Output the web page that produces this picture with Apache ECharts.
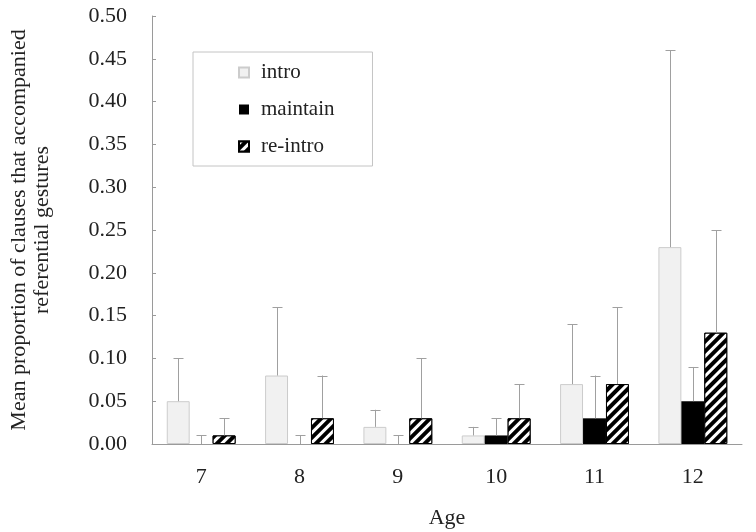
<!DOCTYPE html>
<html>
<head>
<meta charset="utf-8">
<script src="https://cdn.jsdelivr.net/npm/echarts@6/dist/echarts.min.js"></script>
<style>
    html, body { margin: 0; padding: 0; background: #fff; }
    #chart { width: 756px; height: 532px; }
</style>
</head>
<body>
<div id="chart"></div>
<script>
// 数据
var ages = ['7', '8', '9', '10', '11', '12'];
var yTicks = [0, 0.05, 0.1, 0.15, 0.2, 0.25, 0.3, 0.35, 0.4, 0.45, 0.5];
var introMean = [0.05, 0.08, 0.02, 0.01, 0.07, 0.23];
var introUpper = [0.10, 0.16, 0.04, 0.02, 0.14, 0.46];
var maintainMean = [0.00, 0.00, 0.00, 0.01, 0.03, 0.05];
var maintainUpper = [0.01, 0.01, 0.01, 0.03, 0.08, 0.09];
var reintroMean = [0.01, 0.03, 0.03, 0.03, 0.07, 0.13];
var reintroUpper = [0.03, 0.08, 0.10, 0.07, 0.16, 0.25];

var font = 'Liberation Serif';
var groupFrac = 0.7;   // 每组柱子占类目宽度的比例
var barFrac = groupFrac / 3;

// 误差线
function errorSeries(name, means, uppers, slot) {
    var data = [];
    for (var i = 0; i < means.length; i++) {
        data.push([i, means[i], uppers[i]]);
    }
    return {
        name: name + '-err',
        type: 'custom',
        z: 5,
        silent: true,
        data: data,
        encode: { x: 0, y: [1, 2] },
        renderItem: function (params, api) {
            var band = api.size([1, 0])[0];
            var base = api.coord([api.value(0), api.value(1)]);
            var top = api.coord([api.value(0), api.value(2)]);
            var x = Math.round(base[0] + (slot - 1) * barFrac * band) + 0.5;
            var cap = 5;
            var style = { stroke: '#a0a0a0', lineWidth: 1 };
            return {
                type: 'group',
                children: [
                    { type: 'line', shape: { x1: x, y1: base[1], x2: x, y2: top[1] }, style: style },
                    { type: 'line', shape: { x1: x - cap, y1: Math.round(top[1]) + 0.5, x2: x + cap, y2: Math.round(top[1]) + 0.5 }, style: style }
                ]
            };
        }
    };
}

var chart = echarts.init(document.getElementById('chart'));
var option = {
    animation: false,
    backgroundColor: '#fff',
    textStyle: { fontFamily: font },
    grid: { left: 152, right: 14, top: 16, bottom: 88, outerBoundsMode: 'none', containLabel: false },
    legend: {
        data: ['intro', 'maintain', 're-intro'],
        orient: 'vertical',
        left: 193,
        top: 52,
        padding: [10, 38, 9, 45],
        itemGap: 16,
        itemWidth: 10,
        itemHeight: 10,
        icon: 'rect',
        borderColor: '#c4c4c4',
        borderWidth: 1,
        backgroundColor: '#fff',
        textStyle: { fontFamily: font, fontSize: 21, color: '#222', padding: [0, 0, 0, 7] }
    },
    xAxis: {
        type: 'category',
        data: ages,
        name: 'Age',
        nameLocation: 'middle',
        nameGap: 63,
        nameTextStyle: { fontFamily: font, fontSize: 22, color: '#222' },
        axisLine: { lineStyle: { color: '#9a9a9a' } },
        axisTick: { inside: true, length: 5, lineStyle: { color: '#9a9a9a' } },
        axisLabel: { fontFamily: font, fontSize: 22, color: '#222', margin: 22 }
    },
    yAxis: {
        type: 'value',
        min: 0,
        max: 0.5,
        interval: 0.05,
        name: 'Mean proportion of clauses that accompanied\nreferential gestures',
        nameLocation: 'middle',
        nameGap: 98,
        nameTextStyle: { fontFamily: font, fontSize: 22, color: '#222', lineHeight: 23 },
        axisLine: { show: true, lineStyle: { color: '#9a9a9a' } },
        axisTick: { show: true, inside: true, length: 4, lineStyle: { color: '#9a9a9a' } },
        splitLine: { show: false },
        axisLabel: {
            fontFamily: font, fontSize: 22, color: '#222', margin: 25,
            formatter: function (v) { return v.toFixed(2); }
        }
    },
    series: [
        {
            name: 'intro', type: 'bar', data: introMean,
            barGap: '0%', barCategoryGap: '30%',
            itemStyle: { color: '#f1f1f1', borderColor: '#cccccc', borderWidth: 1 }
        },
        {
            name: 'maintain', type: 'bar', data: maintainMean,
            itemStyle: { color: '#000', borderWidth: 0 }
        },
        {
            name: 're-intro', type: 'bar', data: reintroMean,
            itemStyle: {
                color: '#000', borderColor: '#000', borderWidth: 1,
                decal: {
                    symbol: 'rect', symbolSize: 1,
                    dashArrayX: [1, 0], dashArrayY: [3, 4],
                    rotation: -Math.PI / 4, color: '#fff'
                }
            }
        },
        errorSeries('intro', introMean, introUpper, 0),
        errorSeries('maintain', maintainMean, maintainUpper, 1),
        errorSeries('re-intro', reintroMean, reintroUpper, 2)
    ]
};
chart.setOption(option);
</script>
</body>
</html>
